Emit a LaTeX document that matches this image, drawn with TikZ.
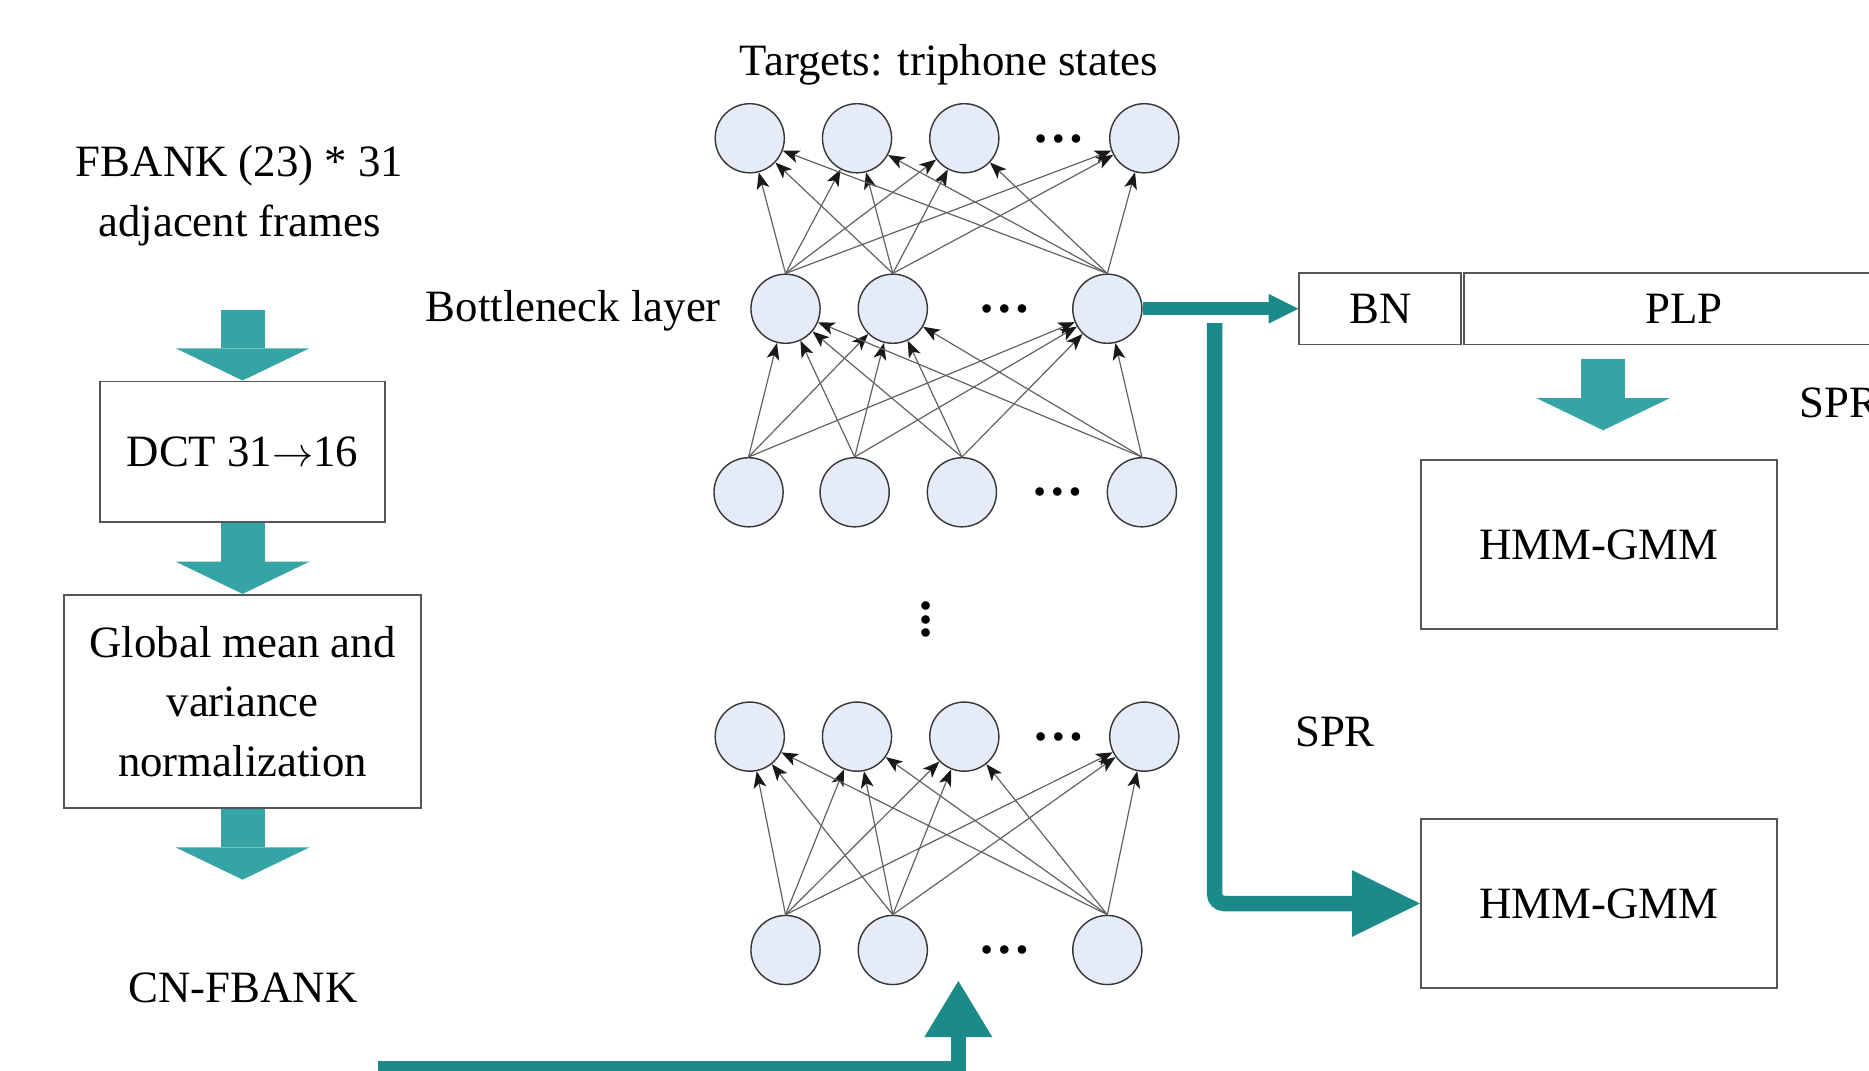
\documentclass[tikz,border=0pt]{standalone}
\usepackage{fontspec}
\setmainfont{Liberation Serif}
\usetikzlibrary{arrows.meta}

\definecolor{tealdark}{HTML}{1B8A88}
\definecolor{teallight}{HTML}{35A4A4}
\definecolor{neuronfill}{HTML}{E5ECF7}
\definecolor{boxline}{HTML}{555555}

\begin{document}
\begin{tikzpicture}[x=0.5pt, y=-0.5pt,
  every node/.style={font=\fontsize{18.8}{25}\selectfont, inner sep=0pt},
  neuron/.style={circle, draw=black!78, fill=neuronfill, line width=0.6pt, minimum size=29pt},
  ellipsisdots/.style={font=\fontsize{22}{22}\selectfont\bfseries},
  procbox/.style={draw=boxline, line width=0.75pt, align=center},
  link/.style={draw=black!62, line width=0.5pt,
    -{Stealth[length=7pt, width=5.4pt, inset=1.8pt, color=black!90]}},
  blockflow/.style={draw=teallight, line width=18.5pt,
    -{Triangle[length=13.5pt, width=56pt, line width=0pt, fill=teallight]}},
  busflow/.style={draw=tealdark}
]
\useasboundingbox (0,0) rectangle (1568,898);
\clip (0,0) rectangle (1568,898);

% ---------- feature extraction column ----------
\node[align=center] (fbank) at (201,164) {FBANK (23) * 31\\adjacent frames};
\node[procbox, minimum width=119.5pt, minimum height=59pt] (dct) at (203.5,379)
  {DCT 31$\rightarrow$16};
\node[procbox, minimum width=149.5pt, minimum height=89.5pt] (gmvn) at (203.5,588.5)
  {Global mean and\\variance\\normalization};
\node (cnfbank) at (204,829) {CN-FBANK};

\coordinate (dctin) at (203.5,260);
\coordinate (cnin) at (203.5,738);
\draw[blockflow] (dctin) -- (dct.north);
\draw[blockflow] (dct.south) -- (gmvn.north);
\draw[blockflow] (gmvn.south) -- (cnin);

% ---------- network ----------
\node (targets) at (796,54) {Targets: triphone states};
\node (bnlabel) at (481,261) {Bottleneck layer};

\foreach \n/\x in {t1/629, t2/719, t3/809, t4/960}
  \node[neuron] (\n) at (\x,116) {};
\node[ellipsisdots] (tdots) at (888,117) {…};

\foreach \n/\x in {b1/659, b2/749, b3/929}
  \node[neuron] (\n) at (\x,259) {};
\node[ellipsisdots] (bdots) at (843,259) {…};

\foreach \n/\x in {h1/628, h2/717, h3/807, h4/958}
  \node[neuron] (\n) at (\x,413) {};
\node[ellipsisdots] (hdots) at (887,413) {…};

\node[font=\fontsize{22}{22}\selectfont\bfseries] (vdots) at (777,520)
  {\vbox{\baselineskip=5.6pt\lineskiplimit=-20pt\hbox{.}\hbox{.}\hbox{.}}};

\foreach \n/\x in {l1/629, l2/719, l3/809, l4/960}
  \node[neuron] (\n) at (\x,618) {};
\node[ellipsisdots] (ldots) at (888,618) {…};

\foreach \n/\x in {i1/659, i2/749, i3/929}
  \node[neuron] (\n) at (\x,797) {};
\node[ellipsisdots] (idots) at (843,797) {…};

\foreach \s in {b1,b2,b3}
  \foreach \t in {t1,t2,t3,t4}
    \draw[link] (\s.north) -- (\t);
\foreach \s in {h1,h2,h3,h4}
  \foreach \t in {b1,b2,b3}
    \draw[link] (\s.north) -- (\t);
\foreach \s in {i1,i2,i3}
  \foreach \t in {l1,l2,l3,l4}
    \draw[link] (\s.north) -- (\t);

% ---------- back-end ----------
\node[procbox, minimum width=68pt, minimum height=30pt] (bn) at (1158,259) {BN};
\node[procbox, minimum width=185pt, minimum height=30pt] (plp) at (1413,259) {PLP};
\node (spra) at (1543.5,338) {SPR};
\node[procbox, minimum width=149.5pt, minimum height=71pt] (hmma) at (1341.5,457) {HMM-GMM};
\node (sprb) at (1120,614) {SPR};
\node[procbox, minimum width=149.5pt, minimum height=71pt] (hmmb) at (1341.5,758) {HMM-GMM};

\coordinate (plpout) at (1345,301);
\coordinate (hmmain) at (1345,361);
\draw[blockflow] (plpout) -- (hmmain);

% bottleneck features to the BN slot
\draw[busflow, line width=5.5pt,
  -{Triangle[length=12.5pt, width=12.5pt, line width=0pt, fill=tealdark]}]
  (b3.east) -- (bn.west);

% bottleneck features straight to the second recogniser
\coordinate (split) at (1019,271);
\draw[busflow, line width=6.5pt, rounded corners=4pt,
  -{Triangle[length=28.5pt, width=28pt, line width=0pt, fill=tealdark]}]
  (split) |- (hmmb.west);

% CN-FBANK features into the network input
\coordinate (cnbus) at (317,897);
\coordinate (netin) at (804,823);
\draw[busflow, line width=6.5pt,
  -{Triangle[length=23.5pt, width=28.5pt, line width=0pt, fill=tealdark]}]
  (cnbus) -| (netin);
\end{tikzpicture}
\end{document}
